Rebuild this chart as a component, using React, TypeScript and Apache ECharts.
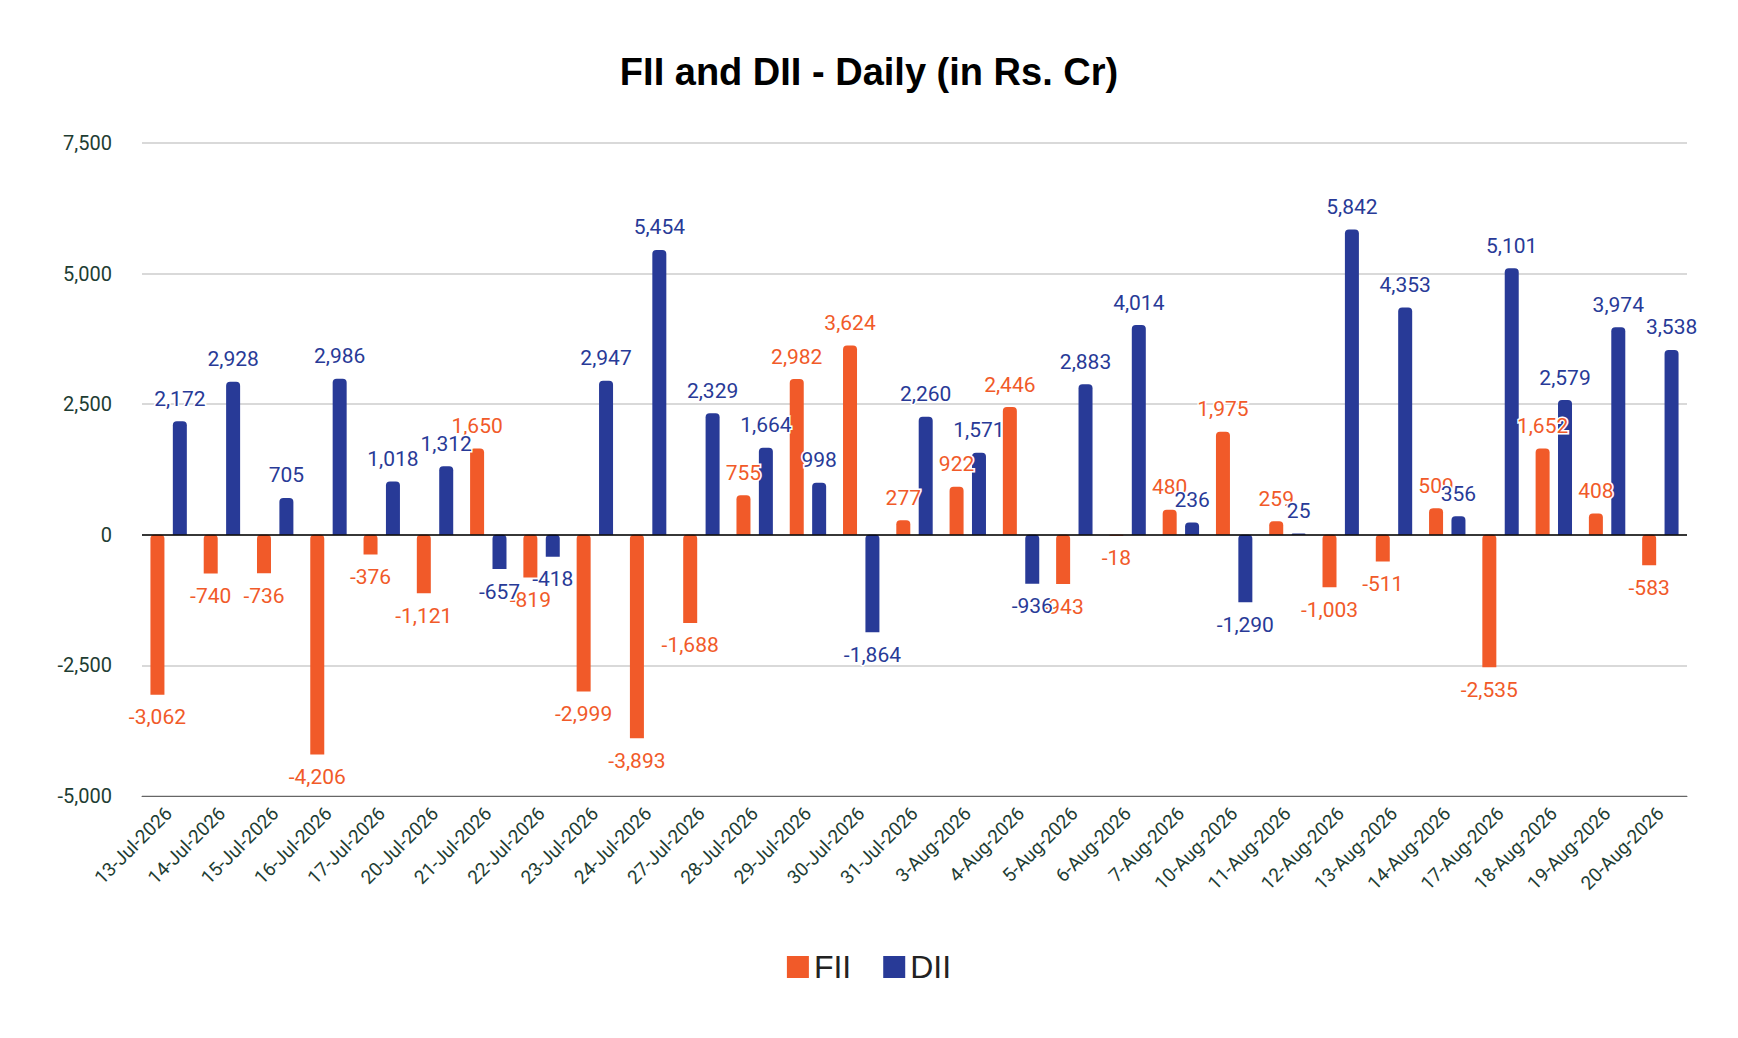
import { useEffect, useRef } from 'react';
import * as echarts from 'echarts';

const dates = [
  '13-Jul-2026', '14-Jul-2026', '15-Jul-2026', '16-Jul-2026', '17-Jul-2026', '20-Jul-2026',
  '21-Jul-2026', '22-Jul-2026', '23-Jul-2026', '24-Jul-2026', '27-Jul-2026', '28-Jul-2026',
  '29-Jul-2026', '30-Jul-2026', '31-Jul-2026', '3-Aug-2026', '4-Aug-2026', '5-Aug-2026',
  '6-Aug-2026', '7-Aug-2026', '10-Aug-2026', '11-Aug-2026', '12-Aug-2026', '13-Aug-2026',
  '14-Aug-2026', '17-Aug-2026', '18-Aug-2026', '19-Aug-2026', '20-Aug-2026',
];
const fii = [
  -3062, -740, -736, -4206, -376, -1121, 1650, -819, -2999, -3893, -1688, 755, 2982, 3624, 277,
  922, 2446, -943, -18, 480, 1975, 259, -1003, -511, 509, -2535, 1652, 408, -583,
];
const dii = [
  2172, 2928, 705, 2986, 1018, 1312, -657, -418, 2947, 5454, 2329, 1664, 998, -1864, 2260,
  1571, -936, 2883, 4014, 236, -1290, 25, 5842, 4353, 356, 5101, 2579, 3974, 3538,
];

const ORANGE = '#f15a29';
const BLUE = '#283a97';

const fmt = (v: number) => v.toLocaleString('en-US');

const App = () => {
  const chartRef = useRef<HTMLDivElement | null>(null);

  useEffect(() => {
    const chart = echarts.init(chartRef.current!, undefined, { renderer: 'svg' });
    const label = (color: string) => ({
      show: true,
      position: 'outside' as any,
      distance: 12,
      color,
      fontSize: 21,
      fontFamily: 'Roboto',
      textBorderColor: '#fff',
      textBorderWidth: 3,
      formatter: (p: any) => fmt(p.value),
    });
    const barItem = (color: string) => ({ color, borderRadius: [4, 4, 0, 0] });
    chart.setOption({
      animation: false,
      textStyle: { fontFamily: 'Roboto' },
      title: {
        text: 'FII and DII - Daily (in Rs. Cr)',
        left: 'center',
        top: 40,
        textStyle: { fontFamily: 'Arial, Liberation Sans', fontSize: 38, fontWeight: 'bold', color: '#000' },
      },
      legend: {
        bottom: 42,
        itemWidth: 22,
        itemHeight: 22,
        itemGap: 32,
        icon: 'rect',
        textStyle: { fontFamily: 'Arial, Liberation Sans', fontSize: 32, color: '#222' },
      },
      grid: { left: 134, right: 43, top: 135, height: 653 },
      xAxis: {
        type: 'category',
        data: dates,
        axisTick: { show: false },
        axisLine: { onZero: false, lineStyle: { color: '#666' } },
        axisLabel: { rotate: 45, interval: 0, fontSize: 19, color: '#1e3d33', margin: 14 },
      },
      yAxis: {
        type: 'value',
        min: -5000,
        max: 7500,
        interval: 2500,
        axisLabel: { formatter: (v: number) => fmt(v), fontSize: 20, color: '#1e3d33', margin: 30 },
        splitLine: { lineStyle: { color: '#ccc', width: 1.5 } },
      },
      series: [
        {
          name: 'FII',
          type: 'bar',
          data: fii,
          barWidth: 14,
          barGap: '60%',
          itemStyle: barItem(ORANGE),
          label: label(ORANGE),
          markLine: {
            silent: true,
            symbol: 'none',
            label: { show: false },
            lineStyle: { color: '#000', type: 'solid', width: 1.5 },
            data: [{ yAxis: 0 }],
          },
        },
        {
          name: 'DII',
          type: 'bar',
          data: dii,
          barWidth: 14,
          itemStyle: barItem(BLUE),
          label: label(BLUE),
        },
      ],
    });
    return () => chart.dispose();
  }, []);

  return <div ref={chartRef} style={{ width: 1722, height: 1022 }} />;
};

export default App;
